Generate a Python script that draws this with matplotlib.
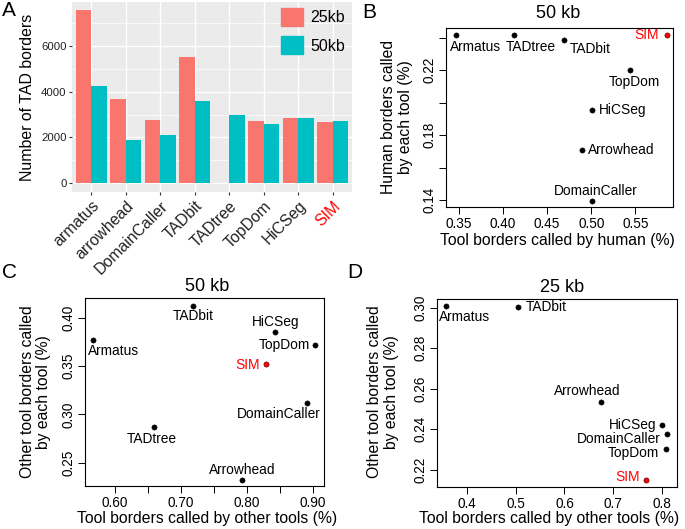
import matplotlib
matplotlib.use('Agg')
import matplotlib.pyplot as plt
import matplotlib.transforms as mtransforms
from matplotlib.patches import Patch

plt.rcParams['font.family'] = ['Liberation Sans', 'DejaVu Sans']

# Panel A: number of TAD borders per tool
tools_a = ['armatus', 'arrowhead', 'DomainCaller', 'TADbit', 'TADtree', 'TopDom', 'HiCSeg', 'SIM']
borders_25kb = [7580, 3670, 2745, 5520, 0, 2730, 2845, 2670]
borders_50kb = [4250, 1885, 2100, 3580, 2965, 2570, 2830, 2700]

# Panel B: 50 kb, tool vs human borders
b_tools = ['Armatus', 'TADtree', 'TADbit', 'SIM', 'TopDom', 'HiCSeg', 'Arrowhead', 'DomainCaller']
b_x = [0.3466, 0.4126, 0.4691, 0.5856, 0.5434, 0.5004, 0.4895, 0.5004]
b_y = [0.2418, 0.2418, 0.2387, 0.2418, 0.2200, 0.1953, 0.1706, 0.1397]

# Panel C: 50 kb, tool vs other tools
c_tools = ['TADbit', 'Armatus', 'HiCSeg', 'TopDom', 'SIM', 'DomainCaller', 'TADtree', 'Arrowhead']
c_x = [0.7193, 0.5678, 0.8432, 0.9032, 0.8287, 0.8915, 0.6604, 0.7934]
c_y = [0.4125, 0.3771, 0.3850, 0.3722, 0.3518, 0.3116, 0.2867, 0.2319]

# Panel D: 25 kb, tool vs other tools
d_tools = ['Armatus', 'TADbit', 'Arrowhead', 'HiCSeg', 'DomainCaller', 'TopDom', 'SIM']
d_x = [0.3561, 0.5052, 0.6755, 0.7992, 0.8109, 0.8074, 0.7664]
d_y = [0.3007, 0.3002, 0.2535, 0.2421, 0.2375, 0.2300, 0.2149]

# label placement (ha, dx px, dy px down)
b_place = [('left', -6, 12), ('left', -8, 12), ('left', 6, 9), ('right', -8, 0),
           ('center', 5, 12), ('left', 7, 0), ('left', 6, 0), ('center', 4, -10)]
c_place = [('center', 0, 10.5), ('left', -5, 10.5), ('center', 0, -10.5), ('right', -5, 0),
           ('right', -6, 1), ('right', 13, 10.5), ('center', -3, 12), ('center', 0, -10.5)]
d_place = [('left', -7, 10.5), ('left', 7, 0), ('center', -14, -10.5), ('right', -5, 0),
           ('right', -7, 4.5), ('right', -7, 3.5), ('right', -6, -3)]

c25, c50 = '#F8766D', '#00BFC4'
W, H = 685, 529
fig = plt.figure(figsize=(6.85, 5.29), dpi=100)


def ax_at(l, t, r, b):
    return fig.add_axes([l / W, 1 - b / H, (r - l) / W, (b - t) / H])


def ftext(x, y, s, **kw):
    fig.text(x / W, 1 - y / H, s, **kw)


# ---------------- A ----------------
ax = ax_at(72, 2, 352, 192)
ax.set_facecolor('#EBEBEB')
xs = list(range(len(tools_a)))
ax.bar([x - 0.225 for x in xs], borders_25kb, width=0.45, color=c25, zorder=3)
ax.bar([x + 0.225 for x in xs], borders_50kb, width=0.45, color=c50, zorder=3)
ax.set_xlim(-0.56, 7.56)
ax.set_ylim(-394, 7930)
for v in [1000, 3000, 5000, 7000]:
    ax.axhline(v, color='white', lw=0.5, zorder=1)
for v in [0, 2000, 4000, 6000]:
    ax.axhline(v, color='white', lw=1.0, zorder=1)
for x in xs:
    ax.axvline(x, color='white', lw=1.0, zorder=1)
for s in ax.spines.values():
    s.set_visible(False)
ax.set_yticks([0, 2000, 4000, 6000])
ax.set_xticks(xs)
ax.set_xticklabels(tools_a, rotation=45, ha='right', va='top', rotation_mode='anchor', fontsize=11.4)
shift = mtransforms.ScaledTranslation(0.055, 0.01, fig.dpi_scale_trans)
for lab in ax.get_xticklabels():
    lab.set_transform(lab.get_transform() + shift)
ax.tick_params(axis='both', length=2.5, width=0.8, color='#333333', labelcolor='#222222')
ax.tick_params(axis='y', labelsize=8.2, pad=1.5)
ax.tick_params(axis='x', pad=2)
ax.get_xticklabels()[-1].set_color('red')
ax.set_ylabel('Number of TAD borders', fontsize=11.4, labelpad=4)
ax.legend(handles=[Patch(color=c25, label='25kb'), Patch(color=c50, label='50kb')],
          loc='upper left', bbox_to_anchor=(0.746, 0.968), frameon=False, fontsize=11.5,
          handlelength=1.375, handleheight=1.375, labelspacing=0.62, handletextpad=0.45,
          borderpad=0, borderaxespad=0)


def scatter_panel(box, xlim, ylim, xticks, xlabels, yticks, ylabels, xs_, ys_, names, place):
    a = ax_at(*box)
    a.set_xlim(*xlim)
    a.set_ylim(*ylim)
    for n, x, y, (ha, dx, dy) in zip(names, xs_, ys_, place):
        sim = n == 'SIM'
        a.scatter([x], [y], s=14, color='red' if sim else 'black',
                  edgecolors='#400000' if sim else 'black', linewidths=0.4, zorder=3, clip_on=False)
        a.annotate(n, (x, y), xytext=(dx * 0.72, -dy * 0.72), textcoords='offset points',
                   ha=ha, va='center', fontsize=9.9, color='red' if sim else 'black')
    a.set_xticks(xticks)
    a.set_xticklabels(xlabels)
    a.set_yticks(yticks)
    a.set_yticklabels(ylabels, rotation=90, va='center')
    a.tick_params(axis='both', direction='out', length=5.2, width=0.7, labelsize=9.8)
    a.tick_params(axis='x', pad=2)
    a.tick_params(axis='y', pad=1.5)
    for s in a.spines.values():
        s.set_linewidth(0.8)
    return a


# ---------------- B ----------------
scatter_panel((446, 28, 673, 207), (0.3356, 0.5926), (0.1357, 0.2461),
              [0.35, 0.40, 0.45, 0.50, 0.55], ['0.35', '0.40', '0.45', '0.50', '0.55'],
              [0.14, 0.16, 0.18, 0.20, 0.22, 0.24], ['0.14', '', '0.18', '', '0.22', ''],
              b_x, b_y, b_tools, b_place)
ftext(558, 13, '50 kb', ha='center', va='center', fontsize=13)
ftext(557.5, 240.5, 'Tool borders called by human (%)', ha='center', va='center', fontsize=11.3)
ftext(397, 117, 'Human borders called\nby each tool (%)', ha='center', va='center',
      rotation=90, fontsize=11.3, linespacing=1.15)

# ---------------- C ----------------
scatter_panel((85, 298, 324, 486), (0.5553, 0.9168), (0.2257, 0.4208),
              [0.60, 0.65, 0.70, 0.75, 0.80, 0.85, 0.90], ['0.60', '', '0.70', '', '0.80', '', '0.90'],
              [0.25, 0.30, 0.35, 0.40], ['0.25', '0.30', '0.35', '0.40'],
              c_x, c_y, c_tools, c_place)
ftext(206.7, 286.7, '50 kb', ha='center', va='center', fontsize=13)
ftext(207.5, 518.5, 'Tool borders called by other tools (%)', ha='center', va='center', fontsize=11.3)
ftext(35.5, 392, 'Other tool borders called\nby each tool (%)', ha='center', va='center',
      rotation=90, fontsize=11.3, linespacing=1.15)

# ---------------- D ----------------
scatter_panel((437, 299, 677, 487), (0.3385, 0.8308), (0.2114, 0.3043),
              [0.4, 0.5, 0.6, 0.7, 0.8], ['0.4', '0.5', '0.6', '0.7', '0.8'],
              [0.22, 0.24, 0.26, 0.28, 0.30], ['0.22', '0.24', '0.26', '0.28', '0.30'],
              d_x, d_y, d_tools, d_place)
ftext(561.7, 287.3, '25 kb', ha='center', va='center', fontsize=13)
ftext(549, 519, 'Tool borders called by other tools (%)', ha='center', va='center', fontsize=11.3)
ftext(383.3, 392, 'Other tool borders called\nby each tool (%)', ha='center', va='center',
      rotation=90, fontsize=11.3, linespacing=1.15)

# panel letters
for lab, x, y in [('A', 2, 11), ('B', 362, 13), ('C', 2, 272), ('D', 347, 273)]:
    ftext(x, y, lab, ha='left', va='center', fontsize=15)

fig.savefig('out.png', dpi=100)
